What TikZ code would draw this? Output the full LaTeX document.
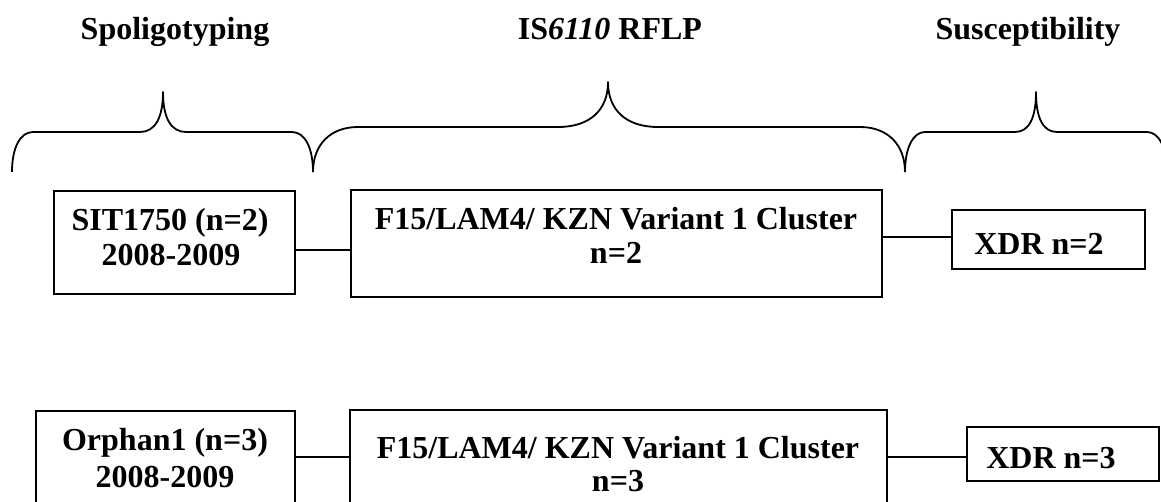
\documentclass[tikz,border=0pt]{standalone}
\usepackage{fontspec}
\setmainfont{Liberation Serif}
\begin{document}
\begin{tikzpicture}[x=1pt,y=-1pt,
  brace/.style={line width=1.8pt,line join=round},
  box/.style={draw,line width=1.6pt,inner sep=0pt},
  link/.style={line width=1.5pt},
  lbl/.style={anchor=base,inner sep=0pt,font=\fontsize{32}{36}\selectfont\bfseries},
  head/.style={lbl}]
\useasboundingbox (0,0) rectangle (1161,501);
\clip (0,0) rectangle (1161,501);

% column headings
\node[head] (hSpol) at (175,39) {Spoligotyping};
\node[head] (hRflp) at (610,39) {IS\textit{6110} RFLP};
\node[head] (hSusc) at (1028,39) {Susceptibility};

% curly braces under the headings
\draw[brace] (12,172) .. controls (12,148) and (20,132) .. (33,132) -- (140,132)
  .. controls (155,132) and (163,118) .. (163,92)
  .. controls (163,118) and (171,132) .. (186,132) -- (292,132)
  .. controls (305,132) and (313,148) .. (313,172);
\draw[brace] (313,172) .. controls (313,145) and (330,127) .. (358,127) -- (558,127)
  .. controls (590,127) and (608,110) .. (608,82)
  .. controls (608,110) and (626,127) .. (658,127) -- (860,127)
  .. controls (888,127) and (905,145) .. (905,172);
\draw[brace] (905,172) .. controls (905,148) and (913,132) .. (925,132) -- (1015,132)
  .. controls (1029,132) and (1036,118) .. (1036,92)
  .. controls (1036,118) and (1043,132) .. (1057,132) -- (1147,132)
  .. controls (1159,132) and (1167,148) .. (1167,172);

% first row
\node[box,minimum width=241,minimum height=103] (a1) at (174.5,242.5) {};
\node[box,minimum width=531,minimum height=107] (a2) at (616.5,243.5) {};
\node[box,minimum width=193,minimum height=59] (a3) at (1048.5,239.5) {};
\draw[link] (a1.east |- 0,250) -- (a2.west |- 0,250);
\draw[link] (a2.east |- 0,237) -- (a3.west |- 0,237);

\node[lbl] (a1t) at (170,230) {SIT1750 (n=2)};
\node[lbl] (a1d) at (171,265) {2008-2009};
\node[lbl] (a2t) at (616,229) {F15/LAM4/ KZN Variant 1 Cluster};
\node[lbl] (a2n) at (616,263) {n=2};
\node[lbl] (a3t) at (1039,254) {XDR n=2};

% second row
\node[box,minimum width=259,minimum height=109] (b1) at (165.5,465.5) {};
\node[box,minimum width=537,minimum height=110] (b2) at (618.5,465) {};
\node[box,minimum width=192,minimum height=54] (b3) at (1063,454) {};
\draw[link] (b1.east |- 0,457) -- (b2.west |- 0,457);
\draw[link] (b2.east |- 0,457) -- (b3.west |- 0,457);

\node[lbl] (b1t) at (165,450) {Orphan1 (n=3)};
\node[lbl] (b1d) at (165,487) {2008-2009};
\node[lbl] (b2t) at (618,458) {F15/LAM4/ KZN Variant 1 Cluster};
\node[lbl] (b2n) at (618,491) {n=3};
\node[lbl] (b3t) at (1051,468) {XDR n=3};
\end{tikzpicture}
\end{document}
